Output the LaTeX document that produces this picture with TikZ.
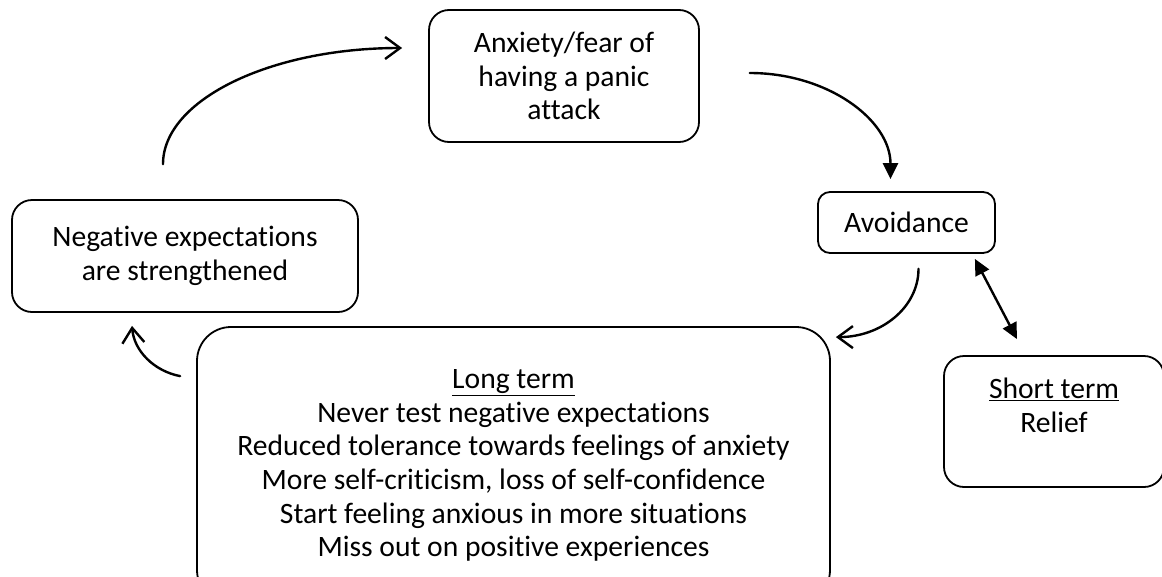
\documentclass[tikz,border=0pt]{standalone}
\usepackage{fontspec}
\setmainfont{Carlito}[Ligatures=NoCommon]
\usetikzlibrary{arrows.meta}
\begin{document}
\begin{tikzpicture}[x=1pt,y=-1pt,line join=round,line cap=round,
	box/.style={draw,line width=1.8pt,rounded corners=20pt,align=center,inner sep=0pt,
		font=\fontsize{29.6}{33.6}\selectfont},
	arr/.style={line width=2.4pt},
	open/.style={arr,-{Straight Barb[length=15pt,width=22pt,line width=2.4pt]}},
	solid/.style={arr,{Triangle[length=16pt,width=15pt]}-{Triangle[length=16pt,width=15pt]}},
	fill/.style={arr,-{Triangle[length=16pt,width=15pt]}}]
	\useasboundingbox (0,0) rectangle (1162,576);
	% boxes
	\node[box,minimum width=270pt,minimum height=132pt] (anx) at (564,76) {Anxiety/fear of\\having a panic\\attack};
	\node[box,minimum width=346pt,minimum height=112pt] (neg) at (185,256) {Negative expectations\\are strengthened};
	\node[box,rounded corners=12pt,minimum width=177pt,minimum height=61pt] (avoid) at (906.5,222.5) {Avoidance};
	\node[box,rounded corners=34pt,minimum width=633pt,minimum height=277pt] (long) at (513.5,465.5)
		{\underline{Long term}\\Never test negative expectations\\Reduced tolerance towards feelings of anxiety\\More self-criticism, loss of self-confidence\\Start feeling anxious in more situations\\Miss out on positive experiences};
	\node[box,minimum width=220pt,minimum height=131pt] (short) at (1054,421.5) {};
	\node[box,draw=none] (shorttxt) at (1054,405.5) {\underline{Short term}\\Relief};
	% ends of the connectors
	\path ([shift={(-22,-35)}]neg.north) coordinate (N1)
		([shift={(-26,-28)}]anx.west) coordinate (A1)
		([shift={(50,-3)}]anx.east) coordinate (A2)
		([shift={(-16,-12)}]avoid.north) coordinate (V1)
		([shift={(12,15)}]avoid.south) coordinate (V2)
		([shift={(5,11)}]long.north east) coordinate (L1)
		([shift={(-21,5)}]avoid.south east) coordinate (V3)
		([shift={(-37,-16)}]short.north) coordinate (S1)
		([shift={(-16,50)}]long.north west) coordinate (L2)
		([shift={(-53,13)}]neg.south) coordinate (N2)
		;
	\draw[open] (N1) .. controls +(0,-64) and +(-132,0) .. (A1);
	\draw[fill] (A2) .. controls +(78,0) and +(0,-59) .. (V1);
	\draw[open] (V2) .. controls +(0,38) and +(46,0) .. (L1);
	\draw[solid] (V3) -- (S1);
	\draw[open] (L2) .. controls +(-26,-5) and +(2,25) .. (N2);
\end{tikzpicture}
\end{document}
